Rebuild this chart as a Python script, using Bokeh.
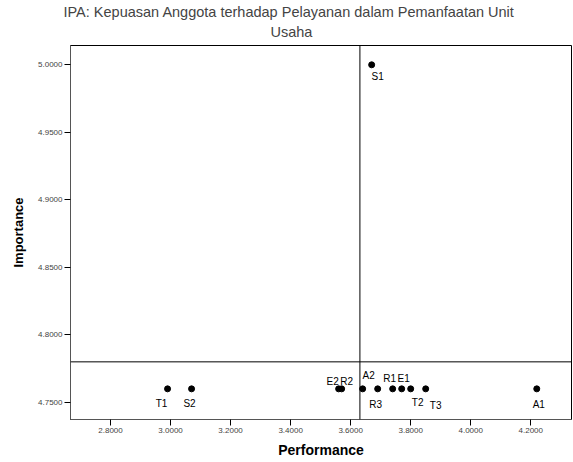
from bokeh.plotting import figure
from bokeh.models import ColumnDataSource, Span, Title, FixedTicker, PrintfTickFormatter, Range1d
from bokeh.core.properties import value
from bokeh.embed import file_html
from bokeh.resources import INLINE

# Data
attributes = ["T1", "S2", "E2", "R2", "A2", "R3", "R1", "E1", "T2", "T3", "A1", "S1"]
performance = [2.99, 3.07, 3.56, 3.57, 3.64, 3.69, 3.74, 3.77, 3.80, 3.85, 4.22, 3.67]
importance = [4.76, 4.76, 4.76, 4.76, 4.76, 4.76, 4.76, 4.76, 4.76, 4.76, 4.76, 5.00]
x_ticks = [2.8, 3.0, 3.2, 3.4, 3.6, 3.8, 4.0, 4.2]
y_ticks = [4.75, 4.80, 4.85, 4.90, 4.95, 5.00]

# label offsets in screen pixels (label placement only)
label_dx = [-6, -2, -6, 5, 6, -2, -3, 2, 7, 10, 2, 6]
label_dy = [15, 15, -7, -7, -13, 16, -10, -10, 14, 17, 16, 12]

title_line1 = "IPA: Kepuasan Anggota terhadap Pelayanan dalam Pemanfaatan Unit"
title_line2 = "Usaha"
x_label = "Performance"
y_label = "Importance"

mean_perf = sum(performance) / len(performance)
mean_imp = sum(importance) / len(importance)

FONT = "Liberation Sans"

p = figure(width=573, height=462, output_backend="svg", toolbar_location=None,
           x_range=Range1d(2.6667, 4.3357), y_range=Range1d(4.7373, 5.0143),
           min_border_left=70, min_border_right=2, min_border_top=45, min_border_bottom=43)

p.add_layout(Title(text=title_line2, align="left", offset=200, text_font=FONT,
                   text_font_size="14.5px", text_font_style="normal", standoff=11), "above")
p.add_layout(Title(text=title_line1, align="left", offset=-7, text_font=FONT,
                   text_font_size="14.5px", text_font_style="normal", standoff=-6), "above")

p.xgrid.visible = False
p.ygrid.visible = False
p.outline_line_color = "black"
p.outline_line_width = 1
p.background_fill_color = "white"
p.border_fill_color = "white"

p.xaxis.ticker = FixedTicker(ticks=x_ticks)
p.yaxis.ticker = FixedTicker(ticks=y_ticks)
p.xaxis.formatter = PrintfTickFormatter(format="%.4f")
p.yaxis.formatter = PrintfTickFormatter(format="%.4f")
for ax in (p.xaxis, p.yaxis):
    ax.minor_tick_line_color = None
    ax.major_tick_in = 0
    ax.major_tick_out = 6
    ax.major_tick_line_color = "black"
    ax.axis_line_color = "#555555"
    ax.major_label_text_font = FONT
    ax.major_label_text_font_size = "8px"
    ax.major_label_text_color = "#444444"
    ax.major_label_standoff = 2
    ax.axis_label_text_font = FONT
    ax.axis_label_text_font_style = "bold"
    ax.axis_label_text_font_size = "13px"
    ax.axis_label_text_color = "black"

p.xaxis.axis_label = x_label
p.yaxis.axis_label = y_label
p.xaxis.axis_label_text_font_size = "14px"
p.xaxis.axis_label_standoff = 6
p.yaxis.axis_label_standoff = 9

p.add_layout(Span(location=mean_perf, dimension="height", line_color="black", line_width=1))
p.add_layout(Span(location=mean_imp, dimension="width", line_color="black", line_width=1))

src = ColumnDataSource(dict(x=performance, y=importance, name=attributes, dx=label_dx, dy=label_dy))
p.scatter("x", "y", source=src, size=6, color="black")
p.text("x", "y", text="name", source=src, x_offset="dx", y_offset="dy",
       text_font=value(FONT), text_font_size="10px", text_align="center",
       text_baseline="middle", text_color="black")

open("out.html", "w").write(file_html(p, INLINE))
